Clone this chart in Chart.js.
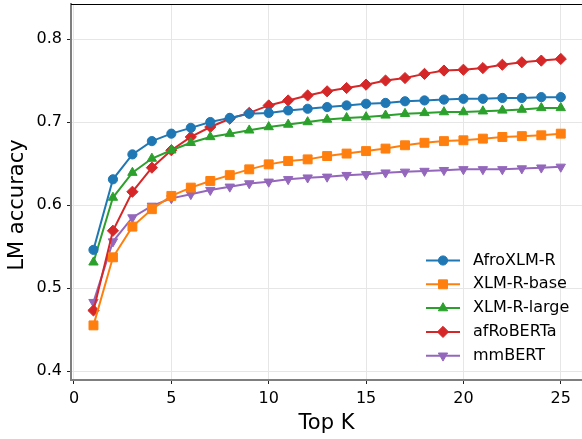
<!DOCTYPE html>
<html>
<head>
<meta charset="utf-8">
<script src="https://cdn.jsdelivr.net/npm/chart.js@4.4.0/dist/chart.umd.min.js"></script>
<style>
html, body { margin: 0; padding: 0; background: #fff; }
#wrap { width: 582px; height: 439px; }
</style>
</head>
<body>
<div id="wrap"><canvas id="chart" width="582" height="439"></canvas></div>
<script>
// ================= DATA =================
const topK = [1,2,3,4,5,6,7,8,9,10,11,12,13,14,15,16,17,18,19,20,21,22,23,24,25];

const afroXlmr  = [0.546,0.631,0.661,0.677,0.686,0.693,0.700,0.705,0.710,0.711,0.714,0.716,0.718,0.720,0.722,0.723,0.725,0.726,0.727,0.728,0.728,0.729,0.729,0.730,0.730];
const xlmrBase  = [0.455,0.537,0.574,0.595,0.611,0.621,0.629,0.636,0.643,0.649,0.653,0.655,0.659,0.662,0.665,0.668,0.672,0.675,0.677,0.678,0.680,0.682,0.683,0.684,0.686];
const xlmrLarge = [0.531,0.609,0.639,0.656,0.666,0.675,0.682,0.686,0.690,0.694,0.697,0.700,0.703,0.705,0.706,0.708,0.710,0.711,0.712,0.712,0.713,0.714,0.715,0.717,0.717];
const afroberta = [0.473,0.569,0.616,0.645,0.666,0.682,0.694,0.704,0.711,0.720,0.726,0.732,0.737,0.741,0.745,0.750,0.753,0.758,0.762,0.763,0.765,0.769,0.772,0.774,0.776];
const mmbert    = [0.483,0.556,0.585,0.599,0.608,0.613,0.618,0.622,0.626,0.628,0.631,0.633,0.634,0.636,0.637,0.639,0.640,0.641,0.642,0.643,0.643,0.643,0.644,0.645,0.646];

const seriesNames = ["AfroXLM-R", "XLM-R-base", "XLM-R-large", "afRoBERTa", "mmBERT"];
const xTicks = [0, 5, 10, 15, 20, 25];
const yTicks = [0.4, 0.5, 0.6, 0.7, 0.8];
const yTitle = "LM accuracy";

// ================= STYLE =================
const colors = ["#1f77b4", "#ff7f0e", "#2ca02c", "#d62728", "#9467bd"];
const markers = [
    { style: "circle",   radius: 4.6, rotation: 0 },
    { style: "rect",     radius: 6.3, rotation: 0 },
    { style: "triangle", radius: 5.4, rotation: 0 },
    { style: "rectRot",  radius: 5.6, rotation: 0 },
    { style: "triangle", radius: 5.4, rotation: 180 }
];
const FONT = "'DejaVu Sans', sans-serif";

function toPoints(values){
    return topK.map((k, i) => ({ x: k, y: values[i] }));
}

const allSeries = [afroXlmr, xlmrBase, xlmrLarge, afroberta, mmbert];

const datasets = allSeries.map((vals, i) => ({
    label: seriesNames[i],
    data: toPoints(vals),
    borderColor: colors[i],
    backgroundColor: colors[i],
    borderWidth: 2,
    pointStyle: markers[i].style,
    pointRadius: markers[i].radius,
    pointRotation: markers[i].rotation,
    pointBorderWidth: 1,
    pointBorderColor: colors[i],
    pointBackgroundColor: colors[i],
    tension: 0
}));

// ================= PLUGINS =================
// matplotlib style legend: short line with marker in the middle, no frame
const lineLegend = {
    id: "lineLegend",
    afterDatasetsDraw(chart){
        const ctx = chart.ctx;
        const area = chart.chartArea;
        const x0 = area.right - 156;
        const y0 = area.top + 256.5;
        const step = 23.8;
        ctx.save();
        chart.data.datasets.forEach((ds, i) => {
            const y = y0 + i * step;
            ctx.strokeStyle = ds.borderColor;
            ctx.fillStyle = ds.borderColor;
            ctx.lineWidth = 2;
            ctx.beginPath();
            ctx.moveTo(x0, y);
            ctx.lineTo(x0 + 34, y);
            ctx.stroke();
            ctx.lineWidth = 1;
            Chart.helpers.drawPoint(ctx, {
                pointStyle: ds.pointStyle,
                radius: ds.pointRadius,
                rotation: ds.pointRotation,
                borderWidth: 1
            }, x0 + 17, y);
            ctx.fillStyle = "#000";
            ctx.font = "16px " + FONT;
            ctx.textAlign = "left";
            ctx.textBaseline = "middle";
            ctx.fillText(ds.label, x0 + 47, y);
        });
        ctx.restore();
    }
};

// thin black frame line on top of the plot + y axis title
const frameAndTitle = {
    id: "frameAndTitle",
    afterDraw(chart){
        const ctx = chart.ctx;
        const area = chart.chartArea;
        ctx.save();
        ctx.strokeStyle = "#000";
        ctx.lineWidth = 1;
        ctx.beginPath();
        ctx.moveTo(area.left, area.top + 0.5);
        ctx.lineTo(area.right, area.top + 0.5);
        ctx.stroke();

        ctx.translate(18, 205);
        ctx.rotate(-Math.PI / 2);
        ctx.fillStyle = "#000";
        ctx.font = "21px " + FONT;
        ctx.textAlign = "center";
        ctx.textBaseline = "middle";
        ctx.fillText(yTitle, 0, 0);
        ctx.restore();
    }
};

// ================= CHART =================
const ctx = document.getElementById("chart").getContext("2d");

new Chart(ctx, {
    type: "line",
    data: { datasets },
    plugins: [lineLegend, frameAndTitle],
    options: {
        responsive: false,
        animation: false,
        devicePixelRatio: 1,
        layout: { autoPadding: false, padding: { top: 4, right: 0, left: 0, bottom: 0 } },
        plugins: {
            legend: { display: false },
            tooltip: { enabled: false }
        },
        scales: {
            x: {
                type: "linear",
                min: -0.154,
                max: 26.09,
                afterBuildTicks: s => { s.ticks = xTicks.map(v => ({ value: v })); },
                afterFit: s => { s.height = 59; s.paddingLeft = 0; s.paddingRight = 0; },
                ticks: {
                    callback: v => String(v),
                    font: { family: FONT, size: 16 },
                    color: "#000",
                    padding: 5,
                    maxRotation: 0
                },
                grid: { color: "#e6e6e6", lineWidth: 1, tickLength: 4, tickColor: "#222", tickWidth: 1 },
                border: { color: "#7f7f7f", width: 2 },
                title: {
                    display: true,
                    text: "Top K",
                    font: { family: FONT, size: 21 },
                    color: "#000",
                    padding: { top: 0, bottom: 3 }
                }
            },
            y: {
                type: "linear",
                min: 0.3892,
                max: 0.8422,
                afterBuildTicks: s => { s.ticks = yTicks.map(v => ({ value: v })); },
                afterFit: s => { s.width = 71; s.paddingTop = 0; s.paddingBottom = 0; },
                ticks: {
                    callback: v => v.toFixed(1),
                    font: { family: FONT, size: 16 },
                    color: "#000",
                    padding: 5
                },
                grid: { color: "#e6e6e6", lineWidth: 1, tickLength: 4, tickColor: "#222", tickWidth: 1 },
                border: { color: "#7f7f7f", width: 2 }
            }
        }
    }
});
</script>
</body>
</html>
